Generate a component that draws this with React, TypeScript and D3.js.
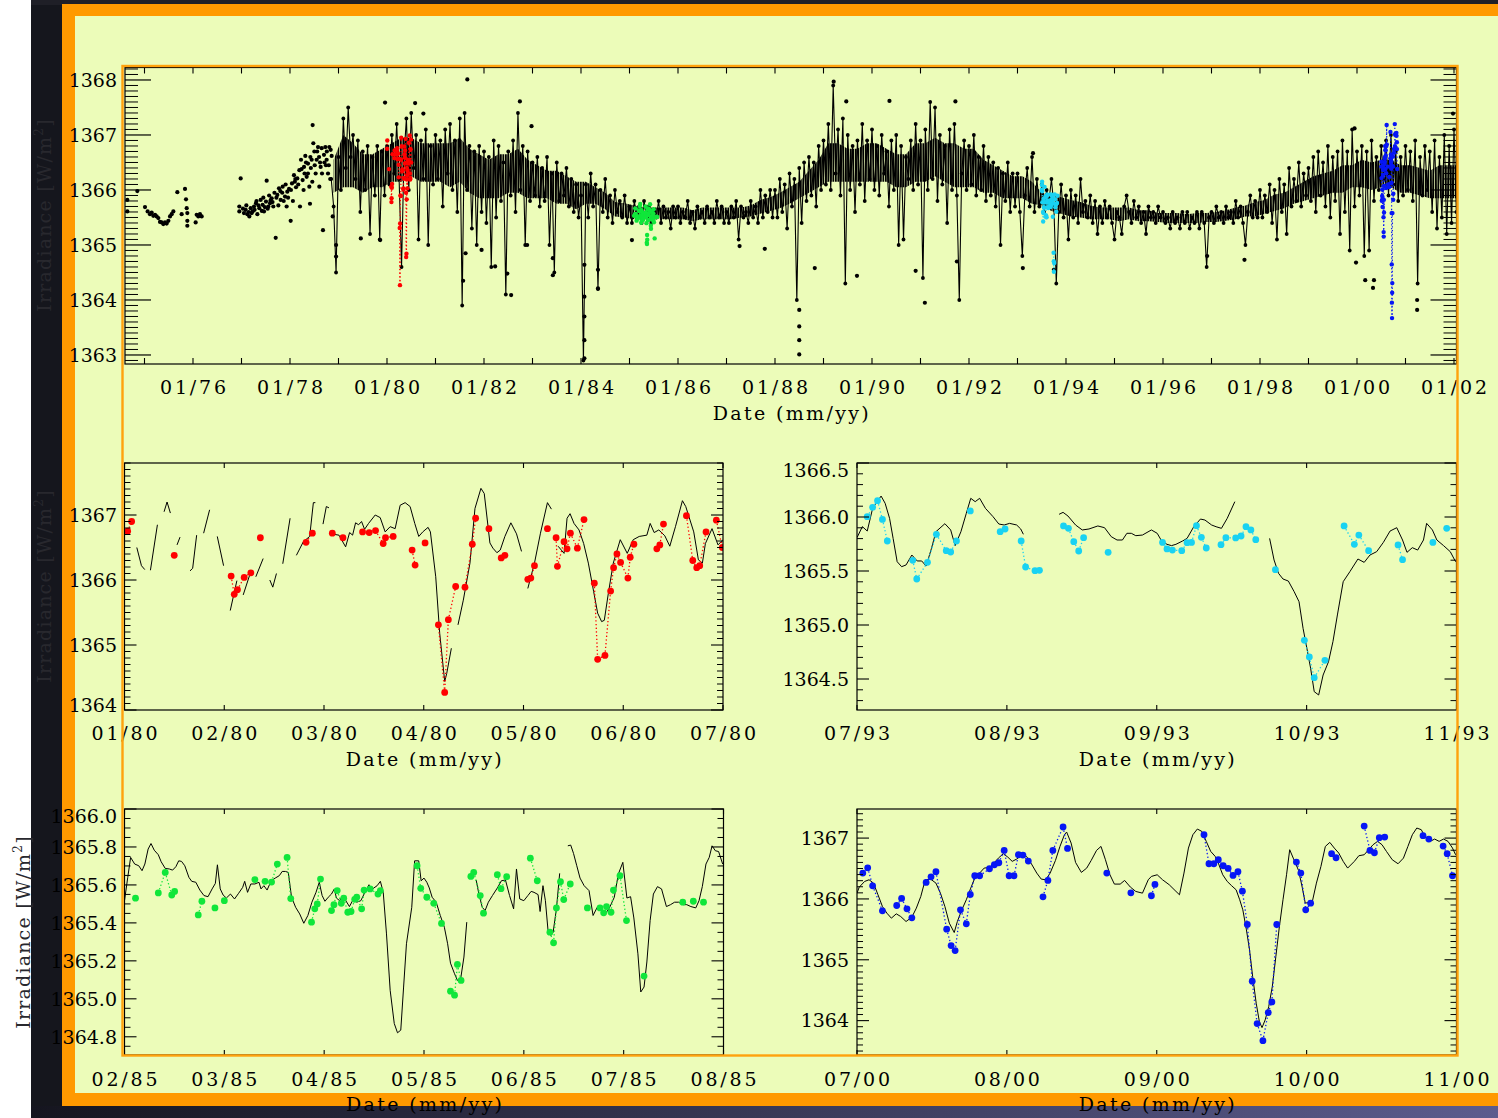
import React from "react";
import * as d3 from "d3";

type P = [number, number];

const FONT = "'DejaVu Serif', serif";

// ---------------- Top panel (full record) ----------------
const topXLabelYears = [1976, 1978, 1980, 1982, 1984, 1986, 1988, 1990, 1992, 1994, 1996, 1998, 2000, 2002];
const topXLabels = ["01/76", "01/78", "01/80", "01/82", "01/84", "01/86", "01/88", "01/90", "01/92", "01/94", "01/96", "01/98", "01/00", "01/02"];

// early sparse daily dots [year, W/m2]
const earlyDots1975: P[] = [
  [1974.646, 1365.82], [1974.646, 1365.61], [1974.852, 1365.98], [1975.01, 1365.69], [1975.065, 1365.61],
  [1975.113, 1365.56], [1975.148, 1365.59], [1975.182, 1365.53], [1975.217, 1365.55], [1975.251, 1365.52],
  [1975.285, 1365.49], [1975.32, 1365.42], [1975.354, 1365.41], [1975.388, 1365.38], [1975.423, 1365.41],
  [1975.457, 1365.39], [1975.492, 1365.44], [1975.526, 1365.52], [1975.56, 1365.56], [1975.595, 1365.61],
  [1975.677, 1365.96], [1975.766, 1365.56], [1975.835, 1366.02], [1975.856, 1365.83], [1975.87, 1365.67],
  [1975.883, 1365.58], [1975.883, 1365.44], [1975.883, 1365.35], [1976.055, 1365.41], [1976.076, 1365.55],
  [1976.11, 1365.52], [1976.144, 1365.56], [1976.179, 1365.52],
];
const earlyDots1977: P[] = [
  [1976.955, 1365.7], [1976.955, 1365.61], [1976.983, 1366.21], [1977.086, 1365.64], [1977.12, 1365.56],
  [1977.162, 1365.52], [1977.189, 1365.67], [1977.23, 1365.61], [1977.258, 1365.7], [1977.299, 1365.76],
  [1977.327, 1365.56], [1977.368, 1365.67], [1977.395, 1365.82], [1977.436, 1365.73], [1977.464, 1365.61],
  [1977.505, 1365.79], [1977.519, 1366.17], [1977.553, 1365.7], [1977.588, 1365.76], [1977.622, 1365.85],
  [1977.656, 1365.7], [1977.705, 1365.13], [1977.739, 1365.91], [1977.773, 1366.03], [1977.808, 1365.82],
  [1977.849, 1366.06], [1977.897, 1365.88], [1977.931, 1365.7], [1977.945, 1365.97], [1978.014, 1365.44],
  [1978.041, 1366.12], [1978.082, 1366.27], [1978.124, 1366.05], [1978.151, 1366.21], [1978.193, 1366.36],
  [1978.206, 1365.7], [1978.227, 1366.55], [1978.261, 1366.18], [1978.289, 1366.42], [1978.316, 1366.62],
  [1978.344, 1366.24], [1978.371, 1366.48], [1978.399, 1366.06], [1978.412, 1365.75], [1978.447, 1366.55],
  [1978.467, 1367.18], [1978.481, 1366.85], [1978.502, 1366.7], [1978.529, 1366.3], [1978.55, 1366.55],
  [1978.577, 1366.78], [1978.605, 1366.06], [1978.632, 1366.42], [1978.653, 1366.76], [1978.68, 1365.27],
  [1978.701, 1366.64], [1978.729, 1366.78], [1978.756, 1366.55], [1978.784, 1366.3], [1978.811, 1366.78],
  [1978.839, 1366.73], [1978.859, 1366.62], [1978.88, 1365.52],
  [1977.03, 1365.66], [1977.21, 1365.58], [1977.35, 1365.72], [1977.48, 1365.69], [1977.6, 1365.81],
  [1977.72, 1365.86], [1977.84, 1365.95], [1977.98, 1366.02], [1978.1, 1366.15], [1978.3, 1366.3],
  [1978.43, 1366.4], [1978.6, 1366.6], [1978.74, 1366.45],
  [1977.05, 1365.58], [1977.1, 1365.72], [1977.15, 1365.6], [1977.27, 1365.64], [1977.31, 1365.8],
  [1977.42, 1365.62], [1977.45, 1365.86], [1977.54, 1365.66], [1977.57, 1365.9], [1977.64, 1365.78],
  [1977.68, 1365.95], [1977.76, 1365.72], [1977.8, 1365.98], [1977.87, 1365.8], [1977.91, 1366.1],
  [1977.96, 1365.86], [1978.02, 1366.0], [1978.06, 1365.8], [1978.11, 1366.2], [1978.17, 1366.1],
  [1978.24, 1366.38], [1978.28, 1366.0], [1978.33, 1366.5], [1978.37, 1366.3], [1978.42, 1366.6],
  [1978.46, 1366.15], [1978.51, 1366.45], [1978.56, 1366.7], [1978.62, 1366.5], [1978.66, 1366.3],
  [1978.71, 1366.5], [1978.76, 1366.7], [1978.8, 1366.45], [1978.83, 1366.2],
];

// continuous record from 1978.85, one value every 0.05 yr
const MAIN_START = 1978.85;
const MAIN_STEP = 0.05;
const mainTSI: number[] = [
  1366.2, 1365.7, 1364.5,
  // 1979
  1366.6, 1366.0, 1367.3, 1366.4, 1367.5, 1366.6, 1367.0, 1366.2, 1366.9, 1365.6, 1366.7, 1366.0, 1366.8, 1365.2, 1366.6, 1365.9, 1366.8, 1365.1, 1366.7, 1365.9,
  // 1980
  1366.8, 1366.1, 1367.0, 1366.3, 1367.2, 1366.2, 1364.6, 1366.6, 1367.3, 1366.0, 1367.4, 1366.4, 1367.0, 1365.1, 1366.9, 1366.2, 1367.1, 1365.0, 1366.8, 1366.1,
  // 1981
  1367.0, 1366.2, 1366.9, 1365.7, 1367.1, 1366.3, 1367.2, 1366.0, 1366.9, 1365.6, 1367.3, 1363.9, 1367.4, 1366.0, 1366.8, 1365.3, 1366.7, 1365.0, 1366.8, 1365.6,
  // 1982
  1366.7, 1365.4, 1366.6, 1364.6, 1366.9, 1365.5, 1366.8, 1365.8, 1366.5, 1364.1, 1366.7, 1365.9, 1366.9, 1365.6, 1367.4, 1366.0, 1366.8, 1365.0, 1366.7, 1365.8,
  // 1983
  1366.5, 1365.9, 1366.6, 1365.7, 1366.4, 1365.8, 1366.6, 1365.0, 1366.3, 1364.5, 1366.5, 1365.8, 1366.3, 1365.9, 1366.4, 1365.7, 1366.2, 1365.6, 1366.1, 1365.5,
  // 1984
  1365.9, 1362.9, 1366.1, 1365.5, 1366.3, 1365.7, 1366.1, 1364.2, 1366.0, 1365.6, 1366.2, 1365.5, 1365.9, 1365.4, 1366.0, 1365.6, 1365.8, 1365.5, 1365.9, 1365.4,
  // 1985
  1365.7, 1365.4, 1365.8, 1365.5, 1365.7, 1365.4, 1365.8, 1365.5, 1365.7, 1365.4, 1365.6, 1365.5, 1365.8, 1365.4, 1365.7, 1365.5, 1365.6, 1365.3, 1365.7, 1365.5,
  // 1986
  1365.7, 1365.4, 1365.6, 1365.5, 1365.8, 1365.4, 1365.6, 1365.3, 1365.7, 1365.5, 1365.6, 1365.4, 1365.7, 1365.5, 1365.6, 1365.4, 1365.8, 1365.5, 1365.7, 1365.4,
  // 1987
  1365.6, 1365.4, 1365.7, 1365.5, 1365.8, 1365.1, 1365.7, 1365.5, 1365.6, 1365.4, 1365.8, 1365.5, 1365.7, 1365.4, 1366.0, 1365.5, 1365.9, 1365.6, 1366.0, 1365.5,
  // 1988
  1366.0, 1365.5, 1366.2, 1365.6, 1366.1, 1365.3, 1366.3, 1365.7, 1366.2, 1364.0, 1366.4, 1365.4, 1366.5, 1365.8, 1366.6, 1365.9, 1366.5, 1365.7, 1366.8, 1366.0,
  // 1989
  1366.9, 1366.1, 1367.2, 1366.0, 1367.9, 1366.3, 1367.1, 1365.9, 1367.3, 1364.3, 1367.0, 1366.0, 1366.8, 1365.6, 1366.9, 1366.1, 1367.2, 1365.8, 1366.9, 1366.2,
  // 1990
  1367.1, 1366.0, 1366.8, 1365.9, 1367.0, 1366.3, 1366.7, 1365.7, 1366.9, 1366.0, 1367.0, 1365.0, 1366.8, 1365.1, 1366.6, 1366.2, 1366.9, 1366.0, 1367.2, 1366.1,
  // 1991
  1366.9, 1364.4, 1367.1, 1366.0, 1367.6, 1366.2, 1367.5, 1365.8, 1367.0, 1366.1, 1366.8, 1365.4, 1367.1, 1366.0, 1367.2, 1365.9, 1364.0, 1366.3, 1366.9, 1366.0,
  // 1992
  1366.8, 1366.1, 1367.0, 1365.9, 1366.6, 1366.0, 1366.8, 1365.8, 1366.6, 1365.9, 1366.5, 1365.7, 1366.4, 1365.0, 1366.3, 1365.8, 1366.5, 1365.6, 1366.3, 1365.7,
  // 1993
  1366.3, 1365.6, 1364.8, 1365.9, 1366.4, 1365.7, 1366.6, 1365.6, 1366.2, 1365.7, 1366.1, 1365.6, 1366.0, 1365.8, 1366.2, 1365.7, 1364.3, 1365.6, 1366.1, 1365.5,
  // 1994
  1365.9, 1365.1, 1366.0, 1365.5, 1365.9, 1365.4, 1366.2, 1365.6, 1365.8, 1365.5, 1365.9, 1365.4, 1365.8, 1365.2, 1365.7, 1365.4, 1365.8, 1365.5, 1365.7, 1365.4,
  // 1995
  1365.1, 1365.6, 1365.5, 1365.2, 1365.7, 1365.9, 1365.6, 1365.4, 1365.8, 1365.5, 1365.7, 1365.4, 1365.6, 1365.2, 1365.7, 1365.5, 1365.6, 1365.4, 1365.7, 1365.5,
  // 1996
  1365.6, 1365.4, 1365.5, 1365.3, 1365.6, 1365.4, 1365.5, 1365.3, 1365.6, 1365.4, 1365.6, 1365.3, 1365.5, 1365.4, 1365.6, 1365.3, 1365.6, 1365.4, 1364.6, 1365.5,
  // 1997
  1365.6, 1365.4, 1365.7, 1365.5, 1365.6, 1365.4, 1365.7, 1365.5, 1365.6, 1365.4, 1365.8, 1365.5, 1365.7, 1365.4, 1365.0, 1365.6, 1365.9, 1365.5, 1365.8, 1365.5,
  // 1998
  1366.0, 1365.5, 1365.9, 1365.6, 1366.1, 1365.4, 1366.0, 1365.1, 1366.2, 1365.6, 1366.1, 1365.2, 1366.4, 1365.7, 1366.2, 1365.8, 1366.5, 1365.7, 1366.3, 1365.9,
  // 1999
  1366.4, 1365.8, 1366.6, 1365.6, 1366.7, 1365.9, 1366.5, 1365.7, 1366.8, 1365.5, 1366.6, 1365.8, 1366.7, 1365.2, 1366.9, 1365.6, 1366.7, 1364.9, 1367.1, 1365.7,
  // 2000
  1366.7, 1365.9, 1366.8, 1364.8, 1366.7, 1364.9, 1366.9, 1365.8, 1366.6, 1366.0, 1366.8, 1366.2, 1366.9, 1365.9, 1367.0, 1366.1, 1366.7, 1365.8, 1366.6, 1365.9,
  // 2001
  1366.8, 1366.0, 1366.7, 1365.8, 1366.9, 1364.3, 1366.6, 1365.9, 1366.8, 1366.0, 1366.7, 1365.6, 1366.9, 1365.3, 1366.6, 1365.5, 1367.0, 1365.2, 1366.8, 1365.4,
  // 2002
  1367.1, 1365.6,
];

// dense core of the daily scatter, one pair every 0.2 yr from 1978.9
const BAND_START = 1978.9;
const BAND_STEP = 0.2;
const bandLo: number[] = [
  1365.95,
  1366.05, 1366.05, 1365.95, 1366.05, 1366.05,
  1366.15, 1366.15, 1366.25, 1366.15, 1366.15,
  1366.15, 1366.05, 1366.15, 1365.95, 1365.85,
  1365.85, 1365.85, 1365.95, 1365.95, 1365.85,
  1365.85, 1365.85, 1365.75, 1365.75, 1365.65,
  1365.75, 1365.75, 1365.65, 1365.52, 1365.5,
  1365.47, 1365.47, 1365.5, 1365.47, 1365.47,
  1365.47, 1365.43, 1365.47, 1365.47, 1365.47,
  1365.47, 1365.5, 1365.52, 1365.57, 1365.62,
  1365.67, 1365.75, 1365.85, 1365.95, 1366.05,
  1366.15, 1366.15, 1366.15, 1366.15, 1366.15,
  1366.15, 1366.15, 1366.05, 1366.05, 1366.15,
  1366.15, 1366.25, 1366.15, 1366.05, 1366.05,
  1366.05, 1365.95, 1365.95, 1365.85, 1365.85,
  1365.85, 1365.75, 1365.72, 1365.62, 1365.57,
  1365.52, 1365.5, 1365.47, 1365.47, 1365.47,
  1365.43, 1365.47, 1365.43, 1365.43, 1365.42,
  1365.4, 1365.4, 1365.4, 1365.4, 1365.42,
  1365.42, 1365.44, 1365.47, 1365.52, 1365.52,
  1365.57, 1365.62, 1365.67, 1365.75, 1365.8,
  1365.85, 1365.9, 1365.95, 1365.95, 1366.05,
  1366.05, 1366.0, 1366.05, 1366.05, 1365.95,
  1365.95, 1365.9, 1365.85, 1365.85, 1365.85,
  1365.85,
];
const bandHi: number[] = [
  1366.55,
  1367.0, 1366.85, 1366.65, 1366.65, 1366.75,
  1366.85, 1366.95, 1366.95, 1366.85, 1366.85,
  1366.85, 1366.85, 1366.95, 1366.75, 1366.65,
  1366.55, 1366.65, 1366.65, 1366.75, 1366.55,
  1366.45, 1366.35, 1366.35, 1366.25, 1366.15,
  1366.15, 1366.05, 1365.95, 1365.78, 1365.76,
  1365.72, 1365.68, 1365.68, 1365.68, 1365.68,
  1365.68, 1365.63, 1365.68, 1365.68, 1365.68,
  1365.68, 1365.68, 1365.72, 1365.82, 1365.87,
  1365.95, 1366.05, 1366.15, 1366.35, 1366.55,
  1366.85, 1366.85, 1366.75, 1366.75, 1366.85,
  1366.85, 1366.75, 1366.65, 1366.65, 1366.85,
  1366.85, 1366.95, 1366.85, 1366.85, 1366.75,
  1366.75, 1366.55, 1366.45, 1366.35, 1366.25,
  1366.25, 1366.15, 1365.95, 1365.92, 1365.87,
  1365.82, 1365.78, 1365.72, 1365.68, 1365.68,
  1365.68, 1365.68, 1365.63, 1365.63, 1365.58,
  1365.58, 1365.58, 1365.56, 1365.58, 1365.58,
  1365.6, 1365.63, 1365.68, 1365.72, 1365.78,
  1365.82, 1365.92, 1365.95, 1366.05, 1366.15,
  1366.25, 1366.3, 1366.35, 1366.45, 1366.45,
  1366.55, 1366.5, 1366.55, 1366.55, 1366.45,
  1366.45, 1366.4, 1366.35, 1366.45, 1366.45,
  1366.45,
];

// isolated outlying daily values [year, W/m2]
const topOutliers: P[] = [
  [1981.656, 1368.01], [1979.96, 1367.59], [1980.58, 1367.58], [1980.75, 1367.39], [1982.74, 1367.61],
  [1982.98, 1367.16], [1982.56, 1364.09], [1982.48, 1364.48], [1982.23, 1364.61], [1981.62, 1364.85],
  [1981.57, 1364.35], [1981.95, 1364.91], [1979.86, 1365.09], [1978.95, 1364.79], [1978.95, 1365.0],
  [1979.46, 1365.12], [1982.89, 1365.0], [1983.42, 1364.45], [1983.42, 1364.76], [1984.07, 1362.94],
  [1984.07, 1363.27], [1984.07, 1363.7], [1984.07, 1364.06], [1984.07, 1364.64], [1984.35, 1364.55],
  [1984.35, 1364.21], [1985.05, 1365.09], [1987.27, 1364.98], [1987.79, 1364.93], [1988.5, 1363.82],
  [1988.5, 1363.01], [1988.5, 1363.52], [1988.5, 1363.27], [1988.82, 1364.58], [1989.21, 1367.97],
  [1989.47, 1367.61], [1990.36, 1367.62], [1991.72, 1367.61], [1989.69, 1364.44], [1991.09, 1363.95],
  [1990.9, 1364.53], [1991.75, 1364.7], [1993.11, 1364.58], [1993.32, 1366.67], [1993.75, 1364.55],
  [1997.68, 1364.73], [1996.91, 1364.8], [2000.17, 1364.36], [2000.33, 1364.22], [2000.35, 1364.36],
  [1999.98, 1364.68], [2001.24, 1363.82], [2001.24, 1364.0], [1999.95, 1367.12], [2001.98, 1367.39],
];

// ---------------- Zoom panels: [day, W/m2] ----------------
const redMonths = ["01/80", "02/80", "03/80", "04/80", "05/80", "06/80", "07/80"];
const redStartYear = 1980.0;
const redSegs: P[][] = [
  [[3.7, 1366.5], [5.1, 1366.22], [6.1, 1366.16]],
  [[7.8, 1366.15], [9.9, 1366.85]],
  [[11.9, 1367.05], [12.8, 1367.2], [13.8, 1367.03]],
  [[15.8, 1366.54], [16.7, 1366.66]],
  [[19.7, 1366.14], [20.5, 1366.18], [21.7, 1366.69]],
  [[23.8, 1366.72], [25.6, 1367.08]],
  [[27.9, 1366.67], [29.8, 1366.22]],
  [[31.8, 1365.53], [33.8, 1365.99]],
  [[35.7, 1365.77], [37.8, 1366.1]],
  [[39.5, 1366.05], [41.7, 1366.33]],
  [[43.7, 1366.0], [44.6, 1365.89], [45.7, 1366.1]],
  [[47.6, 1366.25], [49.8, 1366.95]],
  [[51.7, 1366.38], [53.8, 1366.59], [55.7, 1366.67], [56.8, 1367.19], [57.4, 1367.19]],
  [[59.7, 1366.86], [60.7, 1367.13], [61.5, 1367.11]],
  [[62.1, 1366.71], [64.5, 1366.69], [66.5, 1366.51], [67.7, 1366.73], [68.6, 1366.69], [69.5, 1366.88],
   [70.4, 1366.85], [71.3, 1366.9], [72.2, 1366.78], [73.4, 1366.87], [75.4, 1367.0], [76.9, 1366.96],
   [78.4, 1366.74], [79.9, 1366.82], [81.4, 1366.79], [82.9, 1367.15], [84.4, 1367.19], [85.9, 1367.13],
   [87.3, 1366.87], [88.5, 1366.67], [89.7, 1366.74], [91.3, 1366.81], [92.0, 1366.74], [93.6, 1366.05],
   [94.8, 1365.18], [96.3, 1364.44], [96.9, 1364.56], [98.3, 1364.95]],
  [[100.3, 1365.31], [101.9, 1365.69], [103.9, 1366.26], [105.4, 1367.1], [107.2, 1367.41], [108.2, 1367.33],
   [109.9, 1366.57], [110.8, 1366.49], [112.0, 1366.42], [113.0, 1366.46], [114.4, 1366.67], [116.2, 1366.88],
   [117.9, 1366.71], [119.4, 1366.44]],
  [[121.3, 1365.87], [123.3, 1366.26], [125.1, 1366.72], [127.2, 1367.19], [128.4, 1367.09]],
  [[130.4, 1366.52], [132.2, 1366.41], [133.1, 1366.95], [134.0, 1367.02], [135.2, 1366.87], [136.7, 1366.77],
   [138.1, 1366.56], [139.5, 1366.26], [141.1, 1365.82], [142.3, 1365.49], [143.5, 1365.36], [144.3, 1365.38],
   [145.5, 1365.79], [147.0, 1366.26], [149.1, 1366.62], [151.2, 1366.41], [153.0, 1366.62], [154.8, 1366.67],
   [157.1, 1366.69], [158.1, 1366.87], [159.3, 1366.73], [160.7, 1366.77], [162.5, 1366.68], [164.0, 1366.52],
   [165.7, 1366.82], [167.8, 1367.22], [168.8, 1367.13], [171.2, 1366.74], [172.6, 1366.31], [173.8, 1366.26],
   [174.7, 1366.56], [176.7, 1366.79], [178.5, 1366.54], [180.0, 1366.62]],
];
const redDots: P[] = [
  [0.95, 1366.75], [2.14, 1366.9], [14.96, 1366.38], [32.07, 1366.06], [33.0, 1365.78], [33.97, 1365.85],
  [35.99, 1366.04], [38.0, 1366.11], [40.86, 1366.65], [54.6, 1366.58], [56.5, 1366.72], [62.5, 1366.72],
  [65.7, 1366.65], [71.6, 1366.74], [73.6, 1366.73], [75.5, 1366.76], [77.8, 1366.56], [78.5, 1366.65],
  [80.8, 1366.67], [86.5, 1366.46], [87.4, 1366.23], [90.4, 1366.57], [94.4, 1365.31], [96.3, 1364.27],
  [97.4, 1365.39], [99.6, 1365.9], [102.4, 1365.89], [104.6, 1366.55], [105.6, 1366.95], [109.6, 1366.79],
  [113.3, 1366.34], [114.4, 1366.38], [121.3, 1366.01], [122.2, 1366.03], [123.3, 1366.22], [127.2, 1366.79],
  [129.8, 1366.65], [130.2, 1366.21], [132.2, 1366.59], [133.1, 1366.48], [134.1, 1366.72], [136.2, 1366.49],
  [138.2, 1366.93], [141.3, 1365.95], [142.3, 1364.78], [144.5, 1364.84], [146.2, 1365.83], [147.1, 1366.19],
  [148.1, 1366.4], [149.2, 1366.27], [151.4, 1366.03], [152.1, 1366.35], [153.2, 1366.55], [160.1, 1366.48],
  [161.0, 1366.54], [162.1, 1366.86], [169.0, 1366.99], [170.9, 1366.3], [172.1, 1366.19], [173.0, 1366.22],
  [174.9, 1366.74], [178.0, 1366.92], [179.8, 1366.5],
];

const cyanMonths = ["07/93", "08/93", "09/93", "10/93", "11/93"];
const cyanStartYear = 1993.496;
const cyanSegs: P[][] = [
  [[0.0, 1365.809], [1.07, 1365.911], [2.05, 1365.87], [3.13, 1366.08], [4.82, 1366.194], [5.63, 1366.127],
   [6.52, 1365.988], [7.23, 1365.802], [8.04, 1365.586], [8.93, 1365.54], [9.82, 1365.556], [10.98, 1365.648],
   [12.05, 1365.593], [12.95, 1365.593], [13.84, 1365.546], [14.91, 1365.71], [15.8, 1365.864], [17.59, 1365.938],
   [18.75, 1365.88], [19.64, 1365.735], [20.8, 1365.864], [21.88, 1366.034], [22.77, 1366.173], [23.66, 1366.142],
   [24.55, 1366.173], [25.71, 1366.08], [27.23, 1366.003], [28.39, 1365.935], [29.46, 1365.926], [30.54, 1365.941],
   [31.96, 1365.926], [32.77, 1365.889], [33.3, 1365.84]],
  [[40.45, 1366.025], [41.25, 1366.043], [42.23, 1366.009], [43.75, 1365.926], [45.09, 1365.88], [46.43, 1365.889],
   [48.21, 1365.917], [49.55, 1365.901], [50.89, 1365.818], [52.05, 1365.787], [53.13, 1365.787], [54.02, 1365.849],
   [54.91, 1365.849], [55.8, 1365.827], [57.14, 1365.833], [58.93, 1365.88], [60.09, 1365.849], [60.98, 1365.778],
   [62.05, 1365.747], [62.95, 1365.735], [63.84, 1365.747], [65.18, 1365.778], [66.07, 1365.802], [67.41, 1365.91],
   [68.75, 1365.981], [69.64, 1365.972], [70.98, 1365.926], [71.88, 1365.91], [72.95, 1365.895], [74.11, 1365.988],
   [75.63, 1366.142]],
  [[82.59, 1365.802], [83.48, 1365.602], [84.38, 1365.478], [85.27, 1365.426], [86.34, 1365.407], [87.5, 1365.309],
   [88.48, 1365.216], [89.29, 1364.969], [90.18, 1364.753], [90.8, 1364.599], [91.52, 1364.383], [92.41, 1364.352],
   [93.3, 1364.537], [94.38, 1364.66], [95.27, 1364.846], [96.16, 1365.093], [97.32, 1365.401], [98.66, 1365.494],
   [100.27, 1365.611], [101.52, 1365.58], [102.68, 1365.648], [104.02, 1365.679], [105.36, 1365.765], [106.7, 1365.87],
   [108.04, 1365.901], [109.2, 1365.787], [110.09, 1365.673], [111.16, 1365.716], [112.23, 1365.694], [113.39, 1365.787],
   [114.02, 1365.941], [115.18, 1365.88], [116.07, 1365.787], [117.41, 1365.735], [118.75, 1365.679], [119.82, 1365.586]],
];
const cyanDots: P[] = [
  [2.05, 1366.003], [3.13, 1366.09], [4.11, 1366.151], [5.09, 1365.978], [6.07, 1365.778], [11.16, 1365.599],
  [11.96, 1365.426], [14.11, 1365.58], [15.89, 1365.84], [17.86, 1365.688], [18.75, 1365.676], [19.91, 1365.778],
  [22.68, 1366.056], [28.66, 1365.864], [29.64, 1365.889], [32.86, 1365.778], [33.75, 1365.537], [35.63, 1365.503],
  [36.52, 1365.506], [41.34, 1365.917], [42.32, 1365.895], [43.39, 1365.772], [44.38, 1365.685], [45.36, 1365.809],
  [50.27, 1365.673], [61.16, 1365.765], [62.05, 1365.704], [63.13, 1365.694], [65.0, 1365.688], [66.07, 1365.762],
  [66.96, 1365.765], [67.95, 1365.92], [68.93, 1365.812], [69.91, 1365.713], [72.86, 1365.744], [73.84, 1365.809],
  [75.8, 1365.806], [76.88, 1365.824], [77.86, 1365.91], [78.84, 1365.88], [79.82, 1365.79], [83.75, 1365.512],
  [89.55, 1364.858], [90.54, 1364.704], [91.52, 1364.512], [93.66, 1364.673], [97.5, 1365.917], [99.55, 1365.747],
  [100.45, 1365.833], [102.41, 1365.688], [108.3, 1365.741], [109.2, 1365.605], [115.27, 1365.765], [118.04, 1365.895],
];

const greenMonths = ["02/85", "03/85", "04/85", "05/85", "06/85", "07/85", "08/85"];
const greenStartYear = 1985.085;
const greenSegs: P[][] = [
  [[0.0, 1365.517], [0.98, 1365.64], [1.84, 1365.745], [3.06, 1365.71], [4.29, 1365.701], [5.27, 1365.675],
   [6.12, 1365.71], [7.1, 1365.789], [7.96, 1365.818], [8.94, 1365.783], [10.16, 1365.759], [11.02, 1365.722],
   [12.24, 1365.687], [13.47, 1365.684], [14.45, 1365.678], [15.43, 1365.696], [16.29, 1365.727], [17.14, 1365.724],
   [18.12, 1365.701], [19.35, 1365.64], [20.2, 1365.619], [21.43, 1365.614], [22.65, 1365.573], [23.88, 1365.544],
   [25.1, 1365.538], [26.33, 1365.579], [27.3, 1365.608], [27.92, 1365.706], [28.77, 1365.579], [29.63, 1365.547],
   [30.61, 1365.531], [31.84, 1365.552], [33.06, 1365.526], [34.29, 1365.556], [35.51, 1365.587], [36.12, 1365.619],
   [36.98, 1365.561], [37.96, 1365.605], [39.18, 1365.605], [40.41, 1365.614], [41.02, 1365.579], [41.88, 1365.596],
   [42.85, 1365.573], [44.08, 1365.622], [45.3, 1365.636], [46.53, 1365.649], [47.39, 1365.671], [48.37, 1365.671],
   [49.22, 1365.666], [50.2, 1365.535], [51.43, 1365.482], [52.65, 1365.447], [53.88, 1365.398], [55.1, 1365.439],
   [56.32, 1365.509], [57.55, 1365.561], [58.53, 1365.614], [59.39, 1365.544], [60.24, 1365.514], [61.22, 1365.535],
   [62.2, 1365.552], [63.06, 1365.579], [63.67, 1365.531], [64.65, 1365.517], [65.51, 1365.544], [66.36, 1365.521],
   [67.59, 1365.486], [68.81, 1365.526], [69.79, 1365.509], [71.02, 1365.517], [72.24, 1365.561], [73.47, 1365.601],
   [74.08, 1365.57], [74.94, 1365.584], [75.92, 1365.596], [76.89, 1365.619], [77.75, 1365.561], [78.73, 1365.342],
   [79.83, 1365.045], [81.06, 1364.87], [82.04, 1364.821], [83.02, 1364.835], [83.87, 1365.062], [84.73, 1365.29],
   [86.32, 1365.482], [87.18, 1365.727], [88.41, 1365.727], [89.14, 1365.622], [90.0, 1365.636], [90.85, 1365.614],
   [91.59, 1365.584], [92.45, 1365.535], [93.67, 1365.509], [94.89, 1365.439], [96.12, 1365.377], [97.1, 1365.29],
   [97.96, 1365.188], [99.18, 1365.132], [100.04, 1365.097], [101.02, 1365.106], [102.0, 1365.22], [102.85, 1365.404]],
  [[105.67, 1365.626], [106.53, 1365.549], [107.51, 1365.482], [108.36, 1365.465], [109.34, 1365.509], [110.57, 1365.544],
   [112.04, 1365.584], [113.26, 1365.622], [114.48, 1365.626], [115.71, 1365.544], [116.93, 1365.474], [117.79, 1365.684],
   [118.77, 1365.526], [120.0, 1365.517], [121.22, 1365.544], [122.2, 1365.566], [123.06, 1365.561], [124.28, 1365.549],
   [124.89, 1365.46], [125.75, 1365.596], [126.48, 1365.517], [127.34, 1365.346], [128.2, 1365.334], [128.81, 1365.351],
   [129.79, 1365.474], [130.77, 1365.661]],
  [[133.22, 1365.806], [134.08, 1365.81], [134.93, 1365.766], [135.91, 1365.701], [136.89, 1365.636], [138.12, 1365.596],
   [139.59, 1365.57], [140.81, 1365.439], [142.04, 1365.482], [143.26, 1365.468], [144.48, 1365.447], [145.71, 1365.479],
   [147.18, 1365.535], [148.4, 1365.657], [149.75, 1365.719], [150.97, 1365.531], [152.08, 1365.538], [153.06, 1365.426],
   [154.28, 1365.237], [155.14, 1365.036], [156.12, 1365.062], [156.97, 1365.194], [157.95, 1365.412], [158.93, 1365.552],
   [160.16, 1365.591], [161.38, 1365.579], [162.85, 1365.486], [164.08, 1365.496], [165.3, 1365.509], [166.52, 1365.509],
   [167.75, 1365.496], [168.97, 1365.496], [170.2, 1365.486], [171.67, 1365.479], [172.65, 1365.517], [173.63, 1365.591],
   [174.73, 1365.71], [175.71, 1365.745], [176.57, 1365.806], [177.55, 1365.78], [178.53, 1365.776], [179.75, 1365.71]],
];
const greenDots: P[] = [
  [3.31, 1365.53], [10.16, 1365.558], [12.24, 1365.666], [14.2, 1365.547], [15.06, 1365.566], [22.16, 1365.442],
  [23.26, 1365.514], [27.18, 1365.479], [30.0, 1365.517], [39.18, 1365.628], [42.24, 1365.619], [44.2, 1365.615],
  [45.92, 1365.71], [48.86, 1365.745], [49.96, 1365.528], [56.2, 1365.404], [57.18, 1365.474], [57.92, 1365.5],
  [58.9, 1365.631], [62.2, 1365.465], [62.94, 1365.496], [63.92, 1365.57], [65.14, 1365.503], [65.88, 1365.53],
  [67.1, 1365.456], [68.08, 1365.46], [69.18, 1365.524], [69.79, 1365.535], [71.26, 1365.474], [72.0, 1365.573],
  [73.83, 1365.579], [76.16, 1365.552], [76.89, 1365.57], [87.92, 1365.701], [89.02, 1365.582], [90.85, 1365.535],
  [92.93, 1365.503], [95.26, 1365.397], [97.96, 1365.04], [99.18, 1365.019], [100.04, 1365.181], [101.14, 1365.097],
  [104.08, 1365.645], [104.94, 1365.666], [106.9, 1365.544], [107.88, 1365.451], [112.04, 1365.654], [113.14, 1365.58],
  [114.85, 1365.643], [121.96, 1365.741], [124.04, 1365.622], [127.83, 1365.351], [128.93, 1365.295], [129.79, 1365.479],
  [131.01, 1365.617], [131.99, 1365.523], [133.95, 1365.605], [139.1, 1365.479], [142.89, 1365.479], [143.99, 1365.453],
  [144.85, 1365.486], [146.2, 1365.456], [146.93, 1365.573], [148.89, 1365.649], [150.85, 1365.412], [156.12, 1365.12],
  [167.75, 1365.509], [170.93, 1365.514], [173.99, 1365.509],
];

const blueMonths = ["07/00", "08/00", "09/00", "10/00", "11/00"];
const blueStartYear = 2000.497;
const blueSegs: P[][] = [
  [[0.0, 1366.095], [0.45, 1366.194], [1.52, 1366.287], [2.41, 1366.315], [3.3, 1366.26], [4.2, 1366.068],
   [5.09, 1365.876], [5.98, 1365.766], [6.88, 1365.684], [7.86, 1365.755], [8.75, 1365.711], [9.82, 1365.629],
   [10.98, 1365.7], [11.88, 1365.849], [12.77, 1366.041], [13.66, 1366.315], [14.73, 1366.326], [15.8, 1366.26],
   [16.7, 1366.095], [17.59, 1365.876], [18.48, 1365.602], [19.46, 1365.448], [20.09, 1365.629], [20.98, 1365.821],
   [21.88, 1365.986], [22.77, 1366.178], [23.66, 1366.359], [24.55, 1366.425], [25.45, 1366.507], [26.52, 1366.518],
   [27.41, 1366.589], [28.3, 1366.671], [29.29, 1366.743], [30.18, 1366.688], [31.07, 1366.617], [31.96, 1366.655],
   [33.04, 1366.726], [33.93, 1366.699], [34.82, 1366.589], [35.98, 1366.425], [36.88, 1366.326], [37.77, 1366.315],
   [38.66, 1366.425], [39.73, 1366.633], [40.63, 1366.863], [41.52, 1367.055], [41.96, 1367.099], [42.86, 1366.918],
   [43.75, 1366.6], [44.91, 1366.436], [45.98, 1366.507], [46.88, 1366.633], [47.95, 1366.798], [48.84, 1366.863],
   [49.73, 1366.644], [50.63, 1366.397], [51.52, 1366.244], [52.68, 1366.244], [53.57, 1366.304], [54.73, 1366.194],
   [55.8, 1366.123], [57.14, 1366.095], [58.3, 1366.315], [58.93, 1366.37], [60.09, 1366.397], [61.16, 1366.315],
   [62.5, 1366.233], [63.66, 1366.139], [64.55, 1366.068], [65.45, 1366.425], [66.34, 1366.836], [67.23, 1367.055],
   [68.13, 1367.149], [69.02, 1367.11], [69.91, 1366.946], [70.8, 1366.781], [71.7, 1366.699], [72.32, 1366.589],
   [73.21, 1366.397], [74.11, 1366.287], [75.0, 1366.216], [75.89, 1366.15], [76.61, 1365.986], [77.23, 1365.821],
   [77.95, 1365.492], [78.57, 1365.163], [79.2, 1364.724], [79.91, 1364.285], [80.54, 1363.984], [81.07, 1363.885],
   [81.7, 1364.011], [82.41, 1364.23], [83.13, 1364.56], [83.84, 1365.053], [84.55, 1365.547], [85.27, 1365.986],
   [85.98, 1366.397], [86.61, 1366.809], [87.32, 1366.671], [88.39, 1366.468], [89.11, 1366.194], [89.73, 1365.931],
   [90.45, 1365.942], [91.07, 1365.931], [91.96, 1366.26], [92.86, 1366.534], [93.75, 1366.863], [94.64, 1366.929],
   [95.54, 1366.836], [96.43, 1366.754], [97.32, 1366.617], [98.21, 1366.507], [99.55, 1366.617], [100.45, 1366.71],
   [101.52, 1366.726], [102.41, 1366.809], [103.3, 1366.891], [104.2, 1366.946], [105.09, 1366.891], [105.98, 1366.781],
   [107.14, 1366.644], [108.3, 1366.578], [109.38, 1366.671], [110.27, 1366.863], [111.16, 1367.055], [112.05, 1367.165],
   [112.95, 1367.138], [113.84, 1367.001], [114.73, 1366.946], [115.63, 1366.984], [116.52, 1366.946], [117.41, 1366.984],
   [118.3, 1366.946], [119.2, 1366.836], [119.82, 1366.726]],
];
const blueDots: P[] = [
  [1.16, 1366.425], [2.14, 1366.512], [3.13, 1366.216], [5.09, 1365.805], [7.95, 1365.892], [8.93, 1366.008],
  [10.0, 1365.838], [10.98, 1365.69], [13.84, 1366.271], [14.82, 1366.364], [15.8, 1366.447], [17.95, 1365.503],
  [18.84, 1365.234], [19.64, 1365.152], [20.71, 1365.821], [21.88, 1365.591], [22.68, 1366.074], [23.57, 1366.381],
  [24.55, 1366.381], [26.52, 1366.496], [27.5, 1366.562], [28.39, 1366.595], [29.46, 1366.798], [30.45, 1366.381],
  [31.43, 1366.381], [32.32, 1366.726], [33.21, 1366.721], [34.29, 1366.622], [37.23, 1366.035], [38.21, 1366.304],
  [39.2, 1366.798], [41.25, 1367.182], [42.14, 1366.83], [50.0, 1366.425], [54.82, 1366.101], [58.93, 1366.052],
  [59.64, 1366.238], [69.46, 1367.055], [70.45, 1366.578], [71.43, 1366.578], [72.32, 1366.644], [73.3, 1366.545],
  [74.29, 1366.501], [75.27, 1366.386], [76.25, 1366.447], [77.14, 1366.128], [78.13, 1365.58], [79.11, 1364.647],
  [80.09, 1363.951], [81.25, 1363.671], [82.32, 1364.132], [83.04, 1364.307], [84.02, 1365.58], [87.95, 1366.606],
  [88.84, 1366.425], [89.82, 1365.821], [90.8, 1365.931], [95.0, 1366.743], [95.89, 1366.677], [101.52, 1367.198],
  [102.68, 1366.798], [103.57, 1366.759], [104.55, 1367.006], [105.63, 1367.017], [113.3, 1367.039], [114.46, 1366.984],
  [117.32, 1366.869], [118.13, 1366.743], [119.2, 1366.381],
];

const RED = "#ff0000";
const GREEN = "#10e63a";
const CYAN = "#19d2f2";
const BLUE = "#0616f5";

// ---------------- helpers ----------------
function makeTicks(lo: number, hi: number, step: number): number[] {
  const out: number[] = [];
  const s = Math.ceil(lo / step - 1e-6);
  const e = Math.floor(hi / step + 1e-6);
  for (let k = s; k <= e; k++) out.push(+(k * step).toFixed(4));
  return out;
}
const isMult = (v: number, step: number) => Math.abs(v / step - Math.round(v / step)) < 1e-4;

const DAYS_PER_YEAR_AXIS = 360;
const LINK_GAP = 2.6;

function DottedLinks({ pts, x, y, color, gap, width }: { pts: P[]; x: (v: number) => number; y: (v: number) => number; color: string; gap: number; width: number }) {
  const out: any[] = [];
  for (let i = 0; i < pts.length - 1; i++) {
    const a = pts[i], b = pts[i + 1];
    if (b[0] - a[0] <= gap) {
      out.push(<line key={i} x1={x(a[0])} y1={y(a[1])} x2={x(b[0])} y2={y(b[1])} stroke={color} strokeWidth={width} strokeDasharray="1.3,2.4" />);
    }
  }
  return <g>{out}</g>;
}

interface PanelProps {
  id: string;
  left: number; right: number; top: number; bottom: number;
  days: number;
  months: string[];
  yDomain: [number, number];
  yMajor: number; yMinor: number; yFmt: string;
  segs: P[][]; dots: P[]; color: string;
  labelRight: number;
  tickBase: number; titleBase: number;
}

function Panel(p: PanelProps) {
  const x = d3.scaleLinear().domain([0, p.days]).range([p.left, p.right]);
  const y = d3.scaleLinear().domain(p.yDomain).range([p.bottom, p.top]);
  const line = d3.line<P>().x((d) => x(d[0])).y((d) => y(d[1]));
  const majors = makeTicks(p.yDomain[0], p.yDomain[1], p.yMajor);
  const minors = makeTicks(p.yDomain[0], p.yDomain[1], p.yMinor).filter((v) => !isMult(v, p.yMajor));
  const fmt = d3.format(p.yFmt);
  const monthStep = 30;
  const monthTicks = p.months.map((_, i) => i * monthStep);
  return (
    <g>
      <defs>
        <clipPath id={`clip-${p.id}`}>
          <rect x={p.left} y={p.top} width={p.right - p.left} height={p.bottom - p.top} />
        </clipPath>
      </defs>
      <g clipPath={`url(#clip-${p.id})`}>
        {p.segs.map((s, i) => (
          <path key={i} d={line(s) || ""} fill="none" stroke="#000" strokeWidth={1} />
        ))}
        <DottedLinks pts={p.dots} x={x} y={y} color={p.color} gap={LINK_GAP} width={1.3} />
        {p.dots.map((d, i) => (
          <circle key={i} cx={x(d[0])} cy={y(d[1])} r={3.4} fill={p.color} />
        ))}
      </g>
      <rect x={p.left} y={p.top} width={p.right - p.left} height={p.bottom - p.top} fill="none" stroke="#000" strokeWidth={1.2} />
      {majors.map((v) => (
        <g key={`M${v}`}>
          <line x1={p.left} x2={p.left + 12} y1={y(v)} y2={y(v)} stroke="#000" strokeWidth={1.1} />
          <line x1={p.right} x2={p.right - 12} y1={y(v)} y2={y(v)} stroke="#000" strokeWidth={1.1} />
          <text x={p.labelRight} y={Math.min(Math.max(y(v), p.top + 7), p.bottom - 5)} dy="0.36em" textAnchor="end" fontFamily={FONT} fontSize={19} fill="#000">
            {fmt(v)}
          </text>
        </g>
      ))}
      {minors.map((v) => (
        <g key={`m${v}`}>
          <line x1={p.left} x2={p.left + 6} y1={y(v)} y2={y(v)} stroke="#000" strokeWidth={1} />
          <line x1={p.right} x2={p.right - 6} y1={y(v)} y2={y(v)} stroke="#000" strokeWidth={1} />
        </g>
      ))}
      {monthTicks.map((t, i) => (
        <g key={`x${i}`}>
          <line x1={x(t)} x2={x(t)} y1={p.bottom} y2={p.bottom - 5} stroke="#000" strokeWidth={1.1} />
          <line x1={x(t)} x2={x(t)} y1={p.top} y2={p.top + 5} stroke="#000" strokeWidth={1.1} />
          <text x={x(t)} y={p.tickBase} textAnchor="middle" fontFamily={FONT} fontSize={19} textLength={66} lengthAdjust="spacing" fill="#000">
            {p.months[i]}
          </text>
        </g>
      ))}
      <text x={(p.left + p.right) / 2} y={p.titleBase} textAnchor="middle" fontFamily={FONT} fontSize={19} textLength={156} lengthAdjust="spacing" fill="#000">
        Date (mm/yy)
      </text>
    </g>
  );
}

function YTitle({ x, cy }: { x: number; cy: number }) {
  return (
    <text transform={`translate(${x},${cy}) rotate(-90)`} textAnchor="middle" fontFamily={FONT} fontSize={19} letterSpacing={1.2} fill="#28282e">
      Irradiance [W/m<tspan dy={-8} fontSize={12}>2</tspan><tspan dy={8}>]</tspan>
    </text>
  );
}

function TopPanel() {
  const left = 125, right = 1456.5, top = 67.5, bottom = 364;
  const x = d3.scaleLinear().domain([1974.598, 2002.062]).range([125, 1457]);
  const y = d3.scaleLinear().domain([1362.836, 1368.236]).range([364, 67]);
  const mainPts: P[] = mainTSI.map((v, i) => [MAIN_START + i * MAIN_STEP, v]);
  const line = d3.line<P>().x((d) => x(d[0])).y((d) => y(d[1]));
  const band = d3
    .area<number>()
    .x((_, i) => x(BAND_START + i * BAND_STEP))
    .y0((d) => y(d))
    .y1((_, i) => y(bandHi[i]))
    .curve(d3.curveLinear);
  const majors = makeTicks(1362.836, 1368.236, 1);
  const minors = makeTicks(1362.836, 1368.236, 0.1).filter((v) => !isMult(v, 1));
  const yearTicks = d3.range(1975, 2003);
  const toYear = (start: number, pts: P[]): P[] => pts.map((d) => [start + d[0] / DAYS_PER_YEAR_AXIS, d[1]]);
  const colored: { pts: P[]; color: string }[] = [
    { pts: toYear(redStartYear, redDots), color: RED },
    { pts: toYear(greenStartYear, greenDots), color: GREEN },
    { pts: toYear(cyanStartYear, cyanDots), color: CYAN },
    { pts: toYear(blueStartYear, blueDots), color: BLUE },
  ];
  return (
    <g>
      <defs>
        <clipPath id="clip-top">
          <rect x={left} y={top} width={right - left} height={bottom - top} />
        </clipPath>
        <pattern id="dailyStripes" x={0} y={0} width={2.5} height={10} patternUnits="userSpaceOnUse">
          <rect x={0} y={0} width={1.8} height={10} fill="#000" />
        </pattern>
      </defs>
      <g clipPath="url(#clip-top)">
        <path d={band(bandLo) || ""} fill="url(#dailyStripes)" stroke="none" />
        <path d={line(mainPts) || ""} fill="none" stroke="#000" strokeWidth={1.1} />
        {mainPts.map((d, i) => (
          <circle key={`mp${i}`} cx={x(d[0])} cy={y(d[1])} r={1.9} fill="#000" />
        ))}
        {earlyDots1975.concat(earlyDots1977, topOutliers).map((d, i) => (
          <circle key={`ed${i}`} cx={x(d[0])} cy={y(d[1])} r={2.1} fill="#000" />
        ))}
        {colored.map((c, k) => (
          <g key={`c${k}`}>
            <DottedLinks pts={c.pts} x={x} y={y} color={c.color} gap={LINK_GAP / DAYS_PER_YEAR_AXIS} width={1.2} />
            {c.pts.map((d, i) => (
              <circle key={i} cx={x(d[0])} cy={y(d[1])} r={2.2} fill={c.color} />
            ))}
          </g>
        ))}
      </g>
      <rect x={left} y={top} width={right - left} height={bottom - top} fill="none" stroke="#000" strokeWidth={1.2} />
      {majors.map((v) => (
        <g key={`M${v}`}>
          <line x1={left} x2={left + 26} y1={y(v)} y2={y(v)} stroke="#000" strokeWidth={1.2} />
          <line x1={right} x2={right - 26} y1={y(v)} y2={y(v)} stroke="#000" strokeWidth={1.2} />
          <text x={117} y={y(v)} dy="0.36em" textAnchor="end" fontFamily={FONT} fontSize={19} fill="#000">
            {d3.format("d")(v)}
          </text>
        </g>
      ))}
      {minors.map((v) => (
        <g key={`m${v}`}>
          <line x1={left} x2={left + 13} y1={y(v)} y2={y(v)} stroke="#000" strokeWidth={1} />
          <line x1={right} x2={right - 13} y1={y(v)} y2={y(v)} stroke="#000" strokeWidth={1} />
        </g>
      ))}
      {yearTicks.map((t) => (
        <g key={`y${t}`}>
          <line x1={x(t)} x2={x(t)} y1={bottom} y2={bottom - 6} stroke="#000" strokeWidth={1.1} />
          <line x1={x(t)} x2={x(t)} y1={top} y2={top + 6} stroke="#000" strokeWidth={1.1} />
        </g>
      ))}
      {topXLabelYears.map((t, i) => (
        <text key={`l${t}`} x={x(t)} y={394} textAnchor="middle" fontFamily={FONT} fontSize={19} textLength={66} lengthAdjust="spacing" fill="#000">
          {topXLabels[i]}
        </text>
      ))}
      <text x={(left + right) / 2} y={420} textAnchor="middle" fontFamily={FONT} fontSize={19} textLength={156} lengthAdjust="spacing" fill="#000">
        Date (mm/yy)
      </text>
    </g>
  );
}

export default function App() {
  return (
    <svg width={1498} height={1118} style={{ position: "absolute", left: 0, top: 0, display: "block" }} xmlns="http://www.w3.org/2000/svg">
      <defs>
        <linearGradient id="bottomStrip" x1="0" x2="1" y1="0" y2="0">
          <stop offset="0" stopColor="#15151f" />
          <stop offset="1" stopColor="#5c5c8e" />
        </linearGradient>
      </defs>
      <rect x={0} y={0} width={1498} height={1118} fill="#ffffff" />
      <rect x={31} y={0} width={1467} height={1118} fill="#15161d" />
      <rect x={31} y={0} width={1467} height={5} fill="#1f1f27" />
      <rect x={31} y={1106} width={1467} height={12} fill="url(#bottomStrip)" />
      <rect x={62} y={4} width={1436} height={1102} fill="#ff9900" />
      <rect x={75} y={16} width={1423} height={1077} fill="#ecfcb9" />

      <TopPanel />
      <Panel id="red" left={124.5} right={723} top={463} bottom={710} days={180} months={redMonths}
        yDomain={[1364, 1367.8]} yMajor={1} yMinor={0.1} yFmt="d" segs={redSegs} dots={redDots} color={RED}
        labelRight={117} tickBase={740} titleBase={766} />
      <Panel id="cyan" left={857} right={1456.5} top={463} bottom={710} days={120} months={cyanMonths}
        yDomain={[1364.213, 1366.5]} yMajor={0.5} yMinor={0.1} yFmt=".1f" segs={cyanSegs} dots={cyanDots} color={CYAN}
        labelRight={849} tickBase={740} titleBase={766} />
      <Panel id="green" left={124.5} right={723.5} top={809} bottom={1055} days={180} months={greenMonths}
        yDomain={[1364.704, 1366.0]} yMajor={0.2} yMinor={0.05} yFmt=".1f" segs={greenSegs} dots={greenDots} color={GREEN}
        labelRight={117} tickBase={1086} titleBase={1111} />
      <Panel id="blue" left={857} right={1456.5} top={809} bottom={1055} days={120} months={blueMonths}
        yDomain={[1363.435, 1367.478]} yMajor={1} yMinor={0.1} yFmt="d" segs={blueSegs} dots={blueDots} color={BLUE}
        labelRight={849} tickBase={1086} titleBase={1111} />

      <rect x={122.5} y={66} width={1335} height={989.5} fill="none" stroke="#ffa20d" strokeWidth={2.4} />

      <YTitle x={51} cy={215} />
      <YTitle x={51} cy={586} />
      <YTitle x={30} cy={932} />
    </svg>
  );
}
